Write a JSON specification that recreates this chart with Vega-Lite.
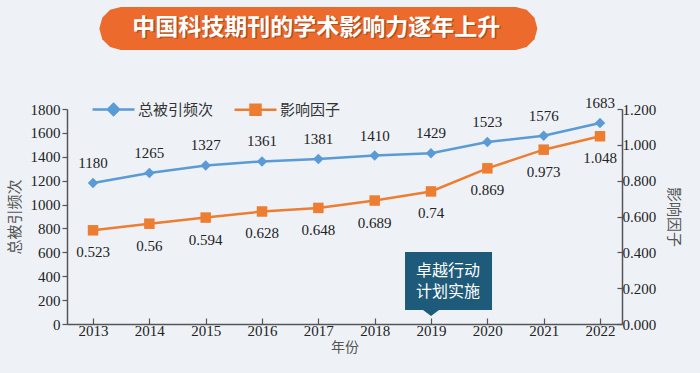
{
  "$schema": "https://vega.github.io/schema/vega-lite/v6.json",
  "width": 555,
  "height": 215,
  "autosize": {"type": "none"},
  "padding": {"left": 67, "top": 109, "right": 78, "bottom": 49},
  "background": "#eef2f7",
  "data": {
    "values": [
      {"year": 2013, "citations": 1180, "impact": 0.523},
      {"year": 2014, "citations": 1265, "impact": 0.56},
      {"year": 2015, "citations": 1327, "impact": 0.594},
      {"year": 2016, "citations": 1361, "impact": 0.628},
      {"year": 2017, "citations": 1381, "impact": 0.648},
      {"year": 2018, "citations": 1410, "impact": 0.689},
      {"year": 2019, "citations": 1429, "impact": 0.74},
      {"year": 2020, "citations": 1523, "impact": 0.869},
      {"year": 2021, "citations": 1576, "impact": 0.973},
      {"year": 2022, "citations": 1683, "impact": 1.048}
    ]
  },
  "encoding": {
    "x": {
      "field": "year",
      "type": "quantitative",
      "scale": {"domain": [2012.538, 2022.39], "nice": false, "zero": false},
      "axis": {
        "values": [2013, 2014, 2015, 2016, 2017, 2018, 2019, 2020, 2021, 2022],
        "tickCount": 30,
        "format": "d",
        "title": "年份",
        "grid": false,
        "labelFlush": false,
        "labelOverlap": false,
        "tickSize": -6,
        "labelPadding": 5,
        "domainColor": "#555555",
        "domainWidth": 1.5,
        "tickColor": "#555555",
        "tickWidth": 1.2,
        "labelFont": "Liberation Serif",
        "labelFontSize": 15,
        "labelColor": "#222222",
        "titleFont": "Noto Sans CJK SC",
        "titleFontSize": 14,
        "titleFontWeight": "normal",
        "titleColor": "#555555",
        "titlePadding": 2
      }
    }
  },
  "layer": [
    {
      "layer": [
        {
          "mark": {"type": "line", "strokeWidth": 2.5},
          "encoding": {
            "y": {
              "field": "citations",
              "type": "quantitative",
              "scale": {"domain": [0, 1800], "nice": false},
              "axis": {
                "orient": "left",
                "title": "总被引频次",
                "values": [0, 200, 400, 600, 800, 1000, 1200, 1400, 1600, 1800],
                "tickCount": 30,
                "format": "d",
                "labelOverlap": false,
                "grid": false,
                "tickSize": 5,
                "labelPadding": 2,
                "domainColor": "#555555",
                "domainWidth": 1.5,
                "tickColor": "#555555",
                "tickWidth": 1.2,
                "labelFont": "Liberation Serif",
                "labelFontSize": 15,
                "labelColor": "#222222",
                "titleFont": "Noto Sans CJK SC",
                "titleFontSize": 15,
                "titleFontWeight": "normal",
                "titleColor": "#555555",
                "titlePadding": 8
              }
            },
            "color": {
              "datum": "总被引频次",
              "type": "nominal",
              "legend": {
                "encode": {
                  "symbols": {
                    "update": {
                      "shape": {"signal": "datum.value === '总被引频次' ? 'M-2.1,0 L2.1,0 M0,-0.55 L0.55,0 L0,0.55 L-0.55,0 Z' : 'M-2.1,0 L2.1,0 M-0.5,-0.5 L0.5,-0.5 L0.5,0.5 L-0.5,0.5 Z'"},
                      "fill": {"signal": "datum.value === '总被引频次' ? '#5b9bd5' : '#ed7d31'"},
                      "stroke": {"signal": "datum.value === '总被引频次' ? '#5b9bd5' : '#ed7d31'"},
                      "strokeWidth": {"value": 2.5},
                      "opacity": {"value": 1}
                    }
                  }
                }
              }
            }
          }
        },
        {
          "data": {"values": [{"year": 2017, "heading": "中国科技期刊的学术影响力逐年上升"}]},
          "mark": {
            "type": "point",
            "filled": true,
            "opacity": 1,
            "size": 40000,
            "dx": -2,
            "shape": "M-1.975,-0.215 L1.975,-0.215 L2.0825,-0.1862 L2.1612,-0.1075 L2.19,0 L2.1612,0.1075 L2.0825,0.1862 L1.975,0.215 L-1.975,0.215 L-2.0825,0.1862 L-2.1612,0.1075 L-2.19,0 L-2.1612,-0.1075 L-2.0825,-0.1862 Z",
            "color": "#ec6a2c"
          },
          "encoding": {
            "x": {"field": "year", "type": "quantitative"},
            "y": {"datum": 2474, "type": "quantitative"}
          }
        },
        {
          "data": {"values": [{"year": 2017, "heading": "中国科技期刊的学术影响力逐年上升"}]},
          "mark": {
            "type": "text",
            "dx": -0.5,
            "dy": 1.5,
            "font": "Noto Sans CJK SC",
            "fontSize": 23,
            "fontWeight": "bold",
            "baseline": "middle",
            "color": "#7a3210",
            "opacity": 0.5
          },
          "encoding": {
            "x": {"field": "year", "type": "quantitative"},
            "y": {"datum": 2482, "type": "quantitative"},
            "text": {"field": "heading"}
          }
        },
        {
          "data": {"values": [{"year": 2017, "heading": "中国科技期刊的学术影响力逐年上升"}]},
          "mark": {
            "type": "text",
            "dx": -2,
            "font": "Noto Sans CJK SC",
            "fontSize": 23,
            "fontWeight": "bold",
            "baseline": "middle",
            "color": "#ffffff"
          },
          "encoding": {
            "x": {"field": "year", "type": "quantitative"},
            "y": {"datum": 2482, "type": "quantitative"},
            "text": {"field": "heading"}
          }
        },
        {
          "mark": {"type": "point", "shape": "diamond", "filled": true, "opacity": 1, "size": 110, "color": "#5b9bd5"},
          "encoding": {"y": {"field": "citations", "type": "quantitative"}}
        },
        {
          "mark": {"type": "text", "dy": -20, "font": "Liberation Serif", "fontSize": 15, "color": "#222222"},
          "encoding": {
            "y": {"field": "citations", "type": "quantitative"},
            "text": {"field": "citations", "type": "nominal"}
          }
        },
        {
          "data": {"values": [{"year": 2019, "note": ["卓越行动", "计划实施"]}]},
          "mark": {
            "type": "point",
            "filled": true,
            "opacity": 1,
            "size": 10000,
            "shape": "M0,0 L-0.16,-0.12 L-0.52,-0.12 L-0.52,-1.28 L1.22,-1.28 L1.22,-0.12 L0.16,-0.12 Z",
            "color": "#1e5a7a"
          },
          "encoding": {
            "x": {"field": "year", "type": "quantitative"},
            "y": {"datum": 67, "type": "quantitative"}
          }
        },
        {
          "data": {"values": [{"year": 2019, "note": ["卓越行动", "计划实施"]}]},
          "mark": {
            "type": "text",
            "dx": 17,
            "font": "Noto Sans CJK SC",
            "fontSize": 16,
            "lineHeight": 21,
            "baseline": "middle",
            "color": "#ffffff"
          },
          "encoding": {
            "x": {"field": "year", "type": "quantitative"},
            "y": {"datum": 444, "type": "quantitative"},
            "text": {"field": "note"}
          }
        }
      ]
    },
    {
      "layer": [
        {
          "mark": {"type": "line", "strokeWidth": 2.5},
          "encoding": {
            "y": {
              "field": "impact",
              "type": "quantitative",
              "scale": {"domain": [0, 1.2], "nice": false},
              "axis": {
                "orient": "right",
                "title": "影响因子",
                "values": [0, 0.2, 0.4, 0.6, 0.8, 1.0, 1.2],
                "tickCount": 30,
                "format": ".3f",
                "labelOverlap": false,
                "grid": false,
                "tickSize": -5,
                "labelPadding": 5,
                "domainColor": "#555555",
                "domainWidth": 1.5,
                "tickColor": "#555555",
                "tickWidth": 1.2,
                "labelFont": "Liberation Serif",
                "labelFontSize": 15,
                "labelColor": "#222222",
                "titleFont": "Noto Sans CJK SC",
                "titleFontSize": 15,
                "titleFontWeight": "normal",
                "titleColor": "#555555",
                "titlePadding": 10
              }
            },
            "color": {"datum": "影响因子", "type": "nominal"}
          }
        },
        {
          "mark": {"type": "point", "shape": "square", "filled": true, "opacity": 1, "size": 110, "color": "#ed7d31"},
          "encoding": {"y": {"field": "impact", "type": "quantitative"}}
        },
        {
          "mark": {"type": "text", "dy": 22, "font": "Liberation Serif", "fontSize": 15, "color": "#222222"},
          "encoding": {
            "y": {"field": "impact", "type": "quantitative"},
            "text": {"field": "impact", "type": "nominal"}
          }
        }
      ]
    }
  ],
  "resolve": {"scale": {"y": "independent"}},
  "config": {
    "view": {"stroke": null},
    "range": {"category": ["#5b9bd5", "#ed7d31"]},
    "legend": {
      "orient": "none",
      "legendX": 35,
      "legendY": -11,
      "direction": "horizontal",
      "title": null,
      "labelFont": "Noto Sans CJK SC",
      "labelFontSize": 15,
      "labelColor": "#333333",
      "symbolSize": 400,
      "labelOffset": 13,
      "columnPadding": 15,
      "padding": 0
    }
  }
}
